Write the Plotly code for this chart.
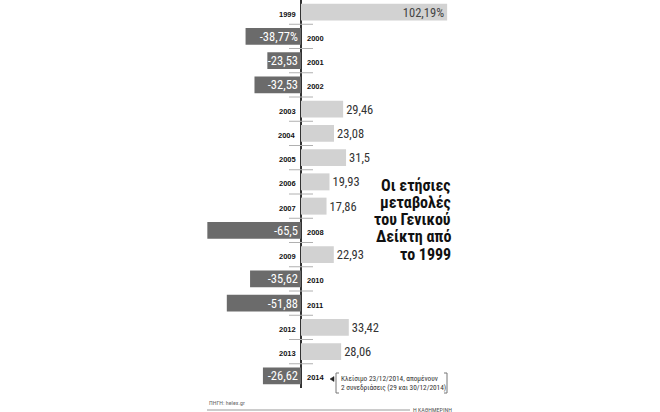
import plotly.graph_objects as go

years = ["1999", "2000", "2001", "2002", "2003", "2004", "2005", "2006",
         "2007", "2008", "2009", "2010", "2011", "2012", "2013", "2014"]
values = [102.19, -38.77, -23.53, -32.53, 29.46, 23.08, 31.5, 19.93,
          17.86, -65.5, 22.93, -35.62, -51.88, 33.42, 28.06, -26.62]
labels = ["102,19%", "-38,77%", "-23,53", "-32,53", "29,46", "23,08", "31,5", "19,93",
          "17,86", "-65,5", "22,93", "-35,62", "-51,88", "33,42", "28,06", "-26,62"]

title_lines = ["Οι ετήσιες", "μεταβολές", "του Γενικού", "Δείκτη από", "το 1999"]
note_text = "Κλείσιμο 23/12/2014, απομένουν<br>2 συνεδριάσεις (29 και 30/12/2014)"
source_text = "ΠΗΓΗ: helex.gr"
brand_text = "Η ΚΑΘΗΜΕΡΙΝΗ"

W, H = 660, 412
PLOT_BOTTOM = 388
AXIS_PX = 301
PX_PER_UNIT = 1.43

NARROW = "Liberation Sans Narrow, Roboto Condensed, DejaVu Sans Condensed, Liberation Sans, sans-serif"

POS_COLOR = "#d2d2d2"
NEG_COLOR = "#6b6b6b"

fig = go.Figure()

first_y, first_v, first_t = [], [], []
pos_y, pos_v, pos_t = [], [], []
neg_y, neg_v, neg_t = [], [], []
for y, v, t in zip(years, values, labels):
    if v > 80:
        first_y.append(y); first_v.append(v); first_t.append(t)
    elif v >= 0:
        pos_y.append(y); pos_v.append(v); pos_t.append(t)
    else:
        neg_y.append(y); neg_v.append(v); neg_t.append(t)

common = dict(orientation="h", width=0.7, cliponaxis=False, constraintext="none",
              hoverinfo="skip", showlegend=False)

fig.add_trace(go.Bar(y=first_y, x=first_v, text=first_t, textposition="inside",
                     insidetextanchor="end", marker=dict(color=POS_COLOR, line=dict(width=0)),
                     textfont=dict(family=NARROW, size=12.5, color="#444"), **common))
fig.add_trace(go.Bar(y=pos_y, x=pos_v, text=pos_t, textposition="outside",
                     marker=dict(color=POS_COLOR, line=dict(width=0)),
                     textfont=dict(family=NARROW, size=12.5, color="#333"), **common))
fig.add_trace(go.Bar(y=neg_y, x=neg_v, text=neg_t, textposition="inside",
                     insidetextanchor="start", marker=dict(color=NEG_COLOR, line=dict(width=0)),
                     textfont=dict(family=NARROW, size=12.5, color="white"), **common))

# year labels beside the axis, on the opposite side of the bar (category index positions)
for i, (y, v) in enumerate(zip(years, values)):
    fig.add_annotation(x=0, y=i, xref="x", yref="y", text=f"<b>{y}</b>", showarrow=False,
                       xanchor="right" if v >= 0 else "left",
                       xshift=-3 if v >= 0 else 4, yshift=-2,
                       font=dict(family="Liberation Sans", size=7.5, color="#111"))

# short separators between rows
half = 12 / PX_PER_UNIT
for i in range(len(years) - 1):
    fig.add_shape(type="line", xref="x", yref="y", x0=-half, x1=half,
                  y0=i + 0.5, y1=i + 0.5, line=dict(color="#b0b0b0", width=1))

def px_x(px):
    return px / W

def px_y(py):
    return (PLOT_BOTTOM - py) / PLOT_BOTTOM

# title, one annotation per line for tight leading
title_top = 185
for k, line in enumerate(title_lines):
    fig.add_annotation(xref="paper", yref="paper", x=px_x(452), y=px_y(title_top + 17.3 * k),
                       text=f"<b>{line}</b>", showarrow=False, xanchor="right", yanchor="middle",
                       borderpad=0, font=dict(family=NARROW, size=16, color="#111"))

# note with bracket and pointer
fig.add_annotation(xref="paper", yref="paper", x=px_x(339), y=px_y(383), text=note_text,
                   showarrow=False, xanchor="left", yanchor="middle", align="left",
                   font=dict(family=NARROW, size=7.3, color="#333"))
fig.add_shape(type="path", xref="paper", yref="paper",
              path=f"M {px_x(339)} {px_y(373)} L {px_x(336)} {px_y(373)} L {px_x(336)} {px_y(393)} L {px_x(339)} {px_y(393)}",
              line=dict(color="#777", width=1))
fig.add_shape(type="path", xref="paper", yref="paper",
              path=f"M {px_x(444)} {px_y(373)} L {px_x(447)} {px_y(373)} L {px_x(447)} {px_y(393)} L {px_x(444)} {px_y(393)}",
              line=dict(color="#777", width=1))
fig.add_shape(type="path", xref="paper", yref="paper",
              path=f"M {px_x(330)} {px_y(379)} L {px_x(334)} {px_y(376.5)} L {px_x(334)} {px_y(381.5)} Z",
              fillcolor="#222", line=dict(color="#222", width=0.5))

# footer
fig.add_annotation(xref="paper", yref="paper", x=px_x(207), y=px_y(402), text=source_text,
                   showarrow=False, xanchor="left", yanchor="middle",
                   font=dict(family=NARROW, size=6, color="#666"))
fig.add_shape(type="line", xref="paper", yref="paper", x0=px_x(207), x1=px_x(410),
              y0=px_y(410), y1=px_y(410), line=dict(color="#999", width=1))
fig.add_annotation(xref="paper", yref="paper", x=px_x(411), y=px_y(409), text=brand_text,
                   showarrow=False, xanchor="left", yanchor="middle",
                   font=dict(family=NARROW, size=6, color="#555"))

x_left = -AXIS_PX / PX_PER_UNIT
x_right = (W - AXIS_PX) / PX_PER_UNIT

fig.update_layout(
    width=W, height=H,
    margin=dict(l=0, r=0, t=0, b=H - PLOT_BOTTOM, pad=0),
    paper_bgcolor="white", plot_bgcolor="white",
    barmode="relative", bargap=0.3,
    xaxis=dict(range=[x_left, x_right], showgrid=False, showticklabels=False, ticks="",
               zeroline=True, zerolinecolor="#333", zerolinewidth=1.5, fixedrange=True),
    yaxis=dict(type="category", categoryorder="array", categoryarray=years,
               range=[len(years) - 0.5, -0.5], showgrid=False, showticklabels=False,
               ticks="", zeroline=False, fixedrange=True),
)

fig.write_html("out.html", config={"displayModeBar": False},
               post_script="document.body.style.margin='0px';document.body.style.overflow='hidden';")
